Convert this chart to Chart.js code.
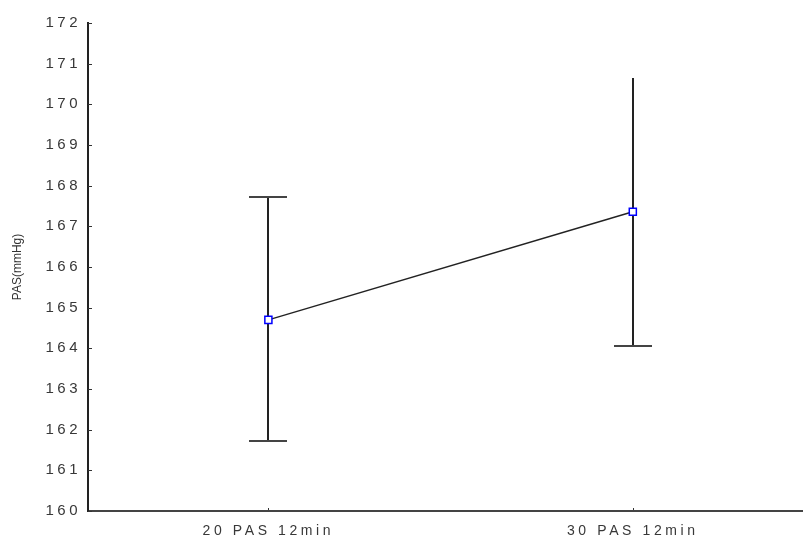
<!DOCTYPE html>
<html>
<head>
<meta charset="utf-8">
<script src="https://cdn.jsdelivr.net/npm/chart.js@4"></script>
<style>
    html, body { margin: 0; padding: 0; background: #fff; }
</style>
</head>
<body>
<canvas id="grafico" width="803" height="538"></canvas>
<script>
let categorias = ["20 PAS 12min", "30 PAS 12min"];
let posicoes = [1, 2];
let medias = [164.70, 167.36];
let inferior = [161.72, 164.06];
let superior = [167.72, 170.65];
let yTicks = [160, 161, 162, 163, 164, 165, 166, 167, 168, 169, 170, 171, 172];

// barras de erro desenhadas a partir das escalas
const barrasErro = {
    id: "barrasErro",
    beforeDatasetsDraw(chart, args, opts) {
        const { ctx, scales: { x, y } } = chart;
        ctx.save();
        ctx.strokeStyle = "#222";
        ctx.lineWidth = 2;
        posicoes.forEach((p, i) => {
            const px = Math.round(x.getPixelForValue(p));
            const yTop = Math.round(y.getPixelForValue(superior[i]));
            const yBot = Math.round(y.getPixelForValue(inferior[i]));
            ctx.beginPath();
            ctx.moveTo(px, yTop);
            ctx.lineTo(px, yBot);
            ctx.stroke();
            ctx.strokeStyle = "#444";
            ctx.beginPath();
            if (!opts.semTampaSuperior.includes(i)) {
                ctx.moveTo(px - opts.tampa, yTop);
                ctx.lineTo(px + opts.tampa, yTop);
            }
            ctx.moveTo(px - opts.tampa, yBot);
            ctx.lineTo(px + opts.tampa, yBot);
            ctx.stroke();
            ctx.strokeStyle = "#222";
        });
        ctx.restore();
    },
    afterDraw(chart) {
        // marcas dos eixos voltadas para dentro
        const { ctx, chartArea, scales: { x, y } } = chart;
        ctx.save();
        ctx.strokeStyle = "#333";
        ctx.lineWidth = 1;
        ctx.beginPath();
        y.ticks.forEach(t => {
            const py = Math.round(y.getPixelForValue(t.value)) + 0.5;
            ctx.moveTo(chartArea.left, py);
            ctx.lineTo(chartArea.left + 4, py);
        });
        x.ticks.forEach(t => {
            const px = Math.round(x.getPixelForValue(t.value)) + 0.5;
            ctx.moveTo(px, chartArea.bottom - 1);
            ctx.lineTo(px, chartArea.bottom - 3);
        });
        ctx.stroke();
        ctx.restore();
    }
};

// rotulos dos eixos mais espaçados (cada eixo com o seu)
const espacamento = {
    id: "espacamento",
    afterLayout(chart, args, opts) {
        Object.keys(opts.eixos).forEach(id => {
            const s = chart.scales[id];
            if (!s || s._espaco) return;
            const orig = s.drawLabels;
            s.drawLabels = function () {
                const c = this.ctx;
                const ant = c.letterSpacing;
                c.letterSpacing = opts.eixos[id];
                orig.apply(this, arguments);
                c.letterSpacing = ant;
            };
            s._espaco = true;
        });
    }
};

let grafico = new Chart(document.getElementById("grafico"), {
    type: "line",
    data: {
        datasets: [{
            data: posicoes.map((p, i) => ({ x: p, y: medias[i] })),
            borderColor: "#222",
            borderWidth: 1.5,
            pointStyle: "rect",
            pointRadius: 5,
            pointBorderColor: "#0000ff",
            pointBackgroundColor: "#fff",
            pointBorderWidth: 1.5,
            tension: 0
        }]
    },
    options: {
        responsive: false,
        animation: false,
        layout: { autoPadding: false, padding: { top: 23, right: 0, left: 0, bottom: 0 } },
        plugins: {
            legend: { display: false },
            tooltip: { enabled: false },
            barrasErro: { tampa: 19, semTampaSuperior: [1] },
            espacamento: { eixos: { x: "3.6px", y: "3.5px" } }
        },
        scales: {
            x: {
                type: "linear",
                min: 0.505,
                max: 2.467,
                afterBuildTicks: s => { s.ticks = posicoes.map(v => ({ value: v })); },
                afterFit: s => { s.height = 27; s.paddingLeft = 0; s.paddingRight = 0; },
                grid: { display: true, drawOnChartArea: false, drawTicks: false },
                border: { display: true, color: "#444", width: 2 },
                ticks: {
                    padding: 12,
                    color: "#383838",
                    font: { family: "Liberation Sans", size: 14 },
                    maxRotation: 0,
                    callback: v => categorias[posicoes.indexOf(v)] ?? ""
                }
            },
            y: {
                min: 160,
                max: 172,
                afterBuildTicks: s => { s.ticks = yTicks.map(v => ({ value: v })); },
                afterFit: s => { s.width = 88; },
                grid: { display: true, drawOnChartArea: false, drawTicks: false },
                border: { display: true, color: "#222", width: 2 },
                ticks: {
                    padding: 7,
                    color: "#383838",
                    font: { family: "Liberation Sans", size: 15 }
                },
                title: {
                    display: true,
                    text: "PAS(mmHg)",
                    color: "#333",
                    font: { family: "Liberation Sans", size: 12 },
                    padding: { top: 10, bottom: 0 }
                }
            }
        }
    },
    plugins: [barrasErro, espacamento]
});
</script>
</body>
</html>
